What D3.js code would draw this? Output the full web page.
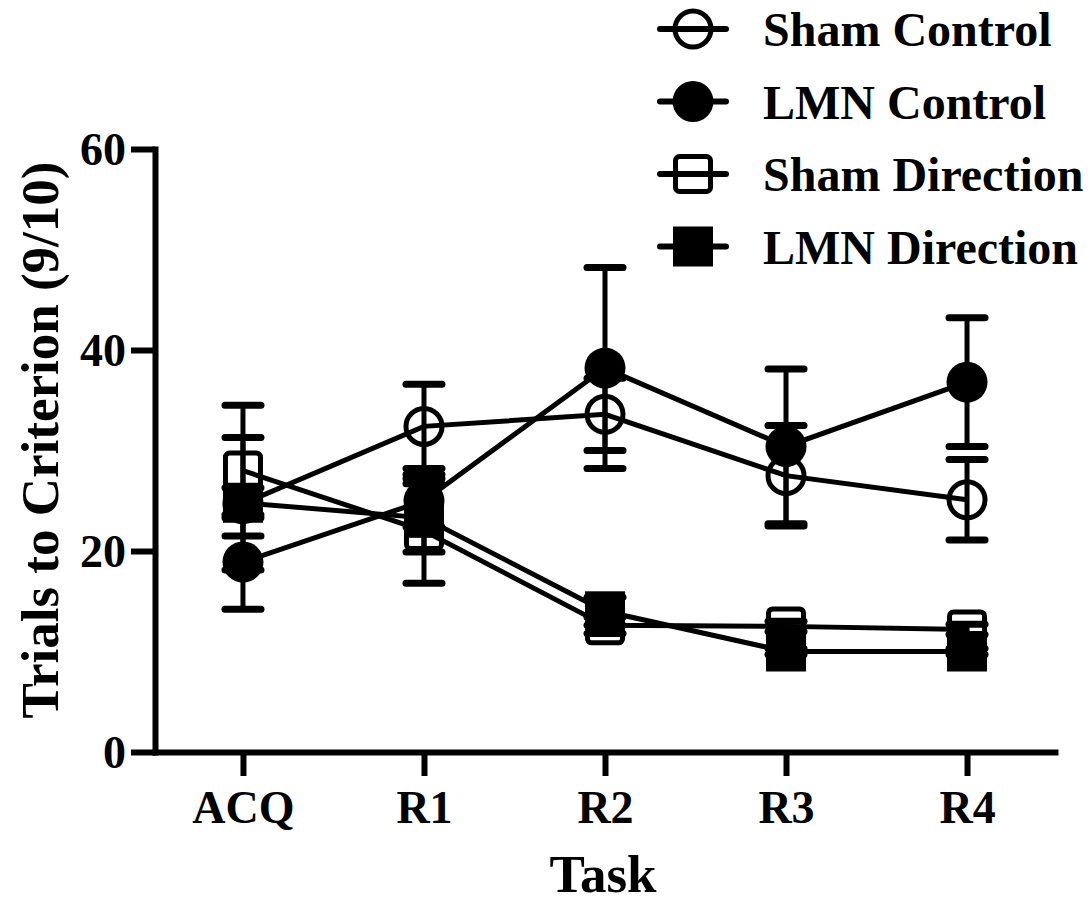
<!DOCTYPE html>
<html>
<head>
<meta charset="utf-8">
<script src="https://cdn.jsdelivr.net/npm/d3@7"></script>
<style>
  body { margin: 0; background: #fff; }
  text { font-family: "Liberation Serif", "Times New Roman", serif; font-weight: bold; fill: #000; }
</style>
</head>
<body>
<div id="chart"></div>
<script>
// data
var tasks = ["ACQ", "R1", "R2", "R3", "R4"];
var yTicks = [0, 20, 40, 60];

var shamControl = [24.7, 32.4, 33.6, 27.5, 25.1];
var shamControlErr = [6.6, 4.2, 3.6, 5.0, 4.0];

var lmnControl = [18.9, 25.0, 38.2, 30.4, 36.8];
var lmnControlErr = [4.7, 2.6, 10.0, 7.7, 6.4];

var shamDirection = [28.0, 22.0, 12.6, 12.5, 12.2];
var shamDirectionErr = [6.5, 5.2, 0.8, 0.5, 0.5];

var lmnDirection = [24.8, 23.3, 14.0, 10.0, 10.0];
var lmnDirectionErr = [1.5, 3.4, 1.4, 0.3, 0.3];

var series = [
  { name: "Sham Control", values: shamControl, err: shamControlErr, shape: "circle", filled: false },
  { name: "LMN Control", values: lmnControl, err: lmnControlErr, shape: "circle", filled: true },
  { name: "Sham Direction", values: shamDirection, err: shamDirectionErr, shape: "square", filled: false },
  { name: "LMN Direction", values: lmnDirection, err: lmnDirectionErr, shape: "square", filled: true }
];

var svgWidth = 1091;
var svgHeight = 903;

var svg = d3.select("#chart")
  .append("svg")
  .attr("width", svgWidth)
  .attr("height", svgHeight);

// scales
var xScale = d3.scalePoint()
  .domain(tasks)
  .range([155, 1055])
  .padding(0.486);

var yScale = d3.scaleLinear()
  .domain([0, 60])
  .range([752, 149]);

// axes
var yAxis = d3.axisLeft(yScale).tickValues(yTicks).tickSize(24).tickSizeOuter(0).tickPadding(5);
var xAxis = d3.axisBottom(xScale).tickSize(24).tickSizeOuter(0).tickPadding(14);

var yG = svg.append("g")
  .attr("transform", "translate(155,0)")
  .call(yAxis);

var xG = svg.append("g")
  .attr("transform", "translate(0,752)")
  .call(xAxis);

[yG, xG].forEach(function(g) {
  g.select(".domain").attr("stroke", "#000").attr("stroke-width", 6).attr("stroke-linecap", "square");
  g.selectAll(".tick line").attr("stroke", "#000").attr("stroke-width", 6);
  g.selectAll(".tick text").style("font-size", "46px").attr("fill", "#000");
  g.attr("font-family", null).attr("font-size", null);
});
xG.selectAll(".tick text").attr("dy", "0.71em");
yG.selectAll(".tick text").attr("dy", "0.34em");

// axis titles
svg.append("text")
  .attr("transform", "translate(58,440) rotate(-90)")
  .attr("text-anchor", "middle")
  .style("font-size", "53px")
  .text("Trials to Criterion (9/10)");

svg.append("text")
  .attr("x", 603)
  .attr("y", 892)
  .attr("text-anchor", "middle")
  .style("font-size", "53px")
  .text("Task");

// lines
var line = d3.line()
  .x(function(d, i) { return xScale(tasks[i]); })
  .y(function(d) { return yScale(d); });

var plot = svg.append("g");

series.forEach(function(s) {
  plot.append("path")
    .datum(s.values)
    .attr("d", line)
    .attr("fill", "none")
    .attr("stroke", "#000")
    .attr("stroke-width", 5);
});

// error bars
series.forEach(function(s) {
  s.values.forEach(function(v, i) {
    var x = xScale(tasks[i]);
    var e = s.err[i];
    plot.append("line")
      .attr("x1", x).attr("x2", x)
      .attr("y1", yScale(v + e)).attr("y2", yScale(v - e))
      .attr("stroke", "#000").attr("stroke-width", 5);
    [v + e, v - e].forEach(function(c) {
      plot.append("line")
        .attr("x1", x - 18).attr("x2", x + 18)
        .attr("y1", yScale(c)).attr("y2", yScale(c))
        .attr("stroke", "#000").attr("stroke-width", 7)
        .attr("stroke-linecap", "round");
    });
  });
});

function drawMarker(g, s, x, y) {
  if (s.shape === "circle") {
    if (s.filled) {
      g.append("circle").attr("cx", x).attr("cy", y).attr("r", 20.5).attr("fill", "#000");
    } else {
      g.append("circle").attr("cx", x).attr("cy", y).attr("r", 18)
        .attr("fill", "none").attr("stroke", "#000").attr("stroke-width", 5);
    }
  } else {
    if (s.filled) {
      g.append("rect").attr("x", x - 20).attr("y", y - 20).attr("width", 40).attr("height", 40)
        .attr("fill", "#000");
    } else {
      g.append("rect").attr("x", x - 17.5).attr("y", y - 17.5).attr("width", 35).attr("height", 35)
        .attr("rx", 4).attr("fill", "none").attr("stroke", "#000").attr("stroke-width", 5);
    }
  }
}

// markers
series.forEach(function(s) {
  s.values.forEach(function(v, i) {
    drawMarker(plot, s, xScale(tasks[i]), yScale(v));
  });
});

// legend
var legend = svg.append("g");
series.forEach(function(s, i) {
  var cy = 29 + i * 72.5;
  legend.append("line")
    .attr("x1", 660).attr("x2", 726)
    .attr("y1", cy).attr("y2", cy)
    .attr("stroke", "#000").attr("stroke-width", 6)
    .attr("stroke-linecap", "round");
  drawMarker(legend, s, 693, cy);
  legend.append("text")
    .attr("x", 763)
    .attr("y", cy + 17)
    .style("font-size", "48px")
    .text(s.name);
});
</script>
</body>
</html>
